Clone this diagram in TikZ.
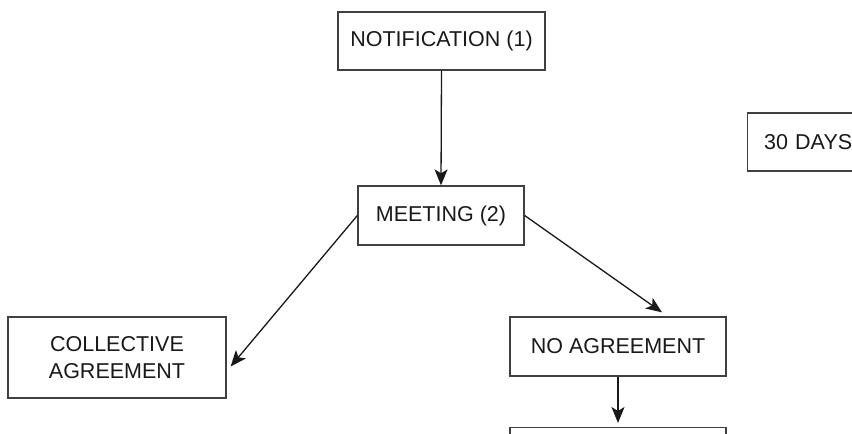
\documentclass[tikz,border=0pt]{standalone}
\usepackage{fontspec}
\setmainfont{Liberation Sans}
\usetikzlibrary{arrows.meta}
\begin{document}
\begin{tikzpicture}[x=1pt,y=-1pt,
  box/.style={draw=black!75, line width=1.3pt, inner sep=0pt, align=center,
    font=\fontsize{21.5}{27}\selectfont, text=black!90},
  arr/.style={draw=black!90, line width=1.3pt, -{Stealth[length=16pt,width=13pt,inset=4pt]}}]
\useasboundingbox (0,0) rectangle (852,434);
\clip (0,0) rectangle (852,434);
\fill[white] (0,0) rectangle (852,434);
\node[box, minimum width=207pt, minimum height=58pt] (notif) at (441.5,41) {NOTIFICATION (1)};
\node[box, minimum width=166pt, minimum height=59pt] (meet) at (441,215.5) {MEETING (2)};
\node[box, minimum width=218pt, minimum height=81pt] (coll) at (117,357.5) {COLLECTIVE\\AGREEMENT};
\node[box, minimum width=216pt, minimum height=59pt] (noag) at (618,346.5) {NO AGREEMENT};
\node[box, minimum width=216pt, minimum height=59pt, anchor=north] (next) at (618,427) {};
\node[box, minimum width=124pt, minimum height=58pt, anchor=west, align=left, text width=113pt, inner xsep=0pt] (days) at (747,142) {\hspace*{11pt}30 DAYS};
\draw[arr] (notif.south) -- (meet.north);
\draw[arr] (meet.west) -- ([xshift=4pt,yshift=-9pt]coll.east);
\draw[arr] (meet.east) -- ([xshift=44pt,yshift=4pt]noag.north);
\draw[arr] (noag.south) -- ([yshift=4pt]next.north);
\end{tikzpicture}
\end{document}
